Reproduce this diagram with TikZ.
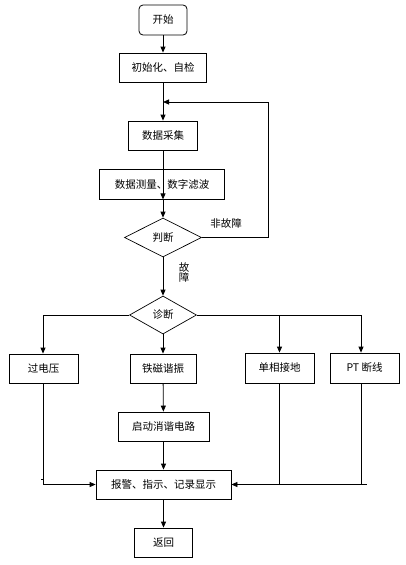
\documentclass[tikz,border=0pt]{standalone}
\usepackage{fontspec}
\setmainfont{Noto Sans CJK SC}
\usetikzlibrary{arrows.meta, positioning, shapes.geometric, calc}

\begin{document}
\begin{tikzpicture}[
    x=1pt, y=-1pt,
    boite/.style={draw, line width=0.8pt, inner sep=0pt, minimum height=29pt,
                  font=\fontsize{10.5}{12}\selectfont},
    losange/.style={diamond, draw, line width=0.7pt, inner sep=0pt,
                    font=\fontsize{10.5}{12}\selectfont},
    fleche/.style={-{Triangle[length=6pt, width=5pt]}, line width=0.8pt},
    trait/.style={line width=0.8pt},
    etiquette/.style={font=\fontsize{10.5}{12}\selectfont}
  ]
    \useasboundingbox (0,0) rectangle (406,565);

    % Noeuds
    \node[boite, rounded corners=4pt, minimum width=48pt, minimum height=30pt] (debut) at (163,20) {开始};
    \node[boite, minimum width=87pt] (init) at (163,67.5) {初始化、自检};
    \node[boite, minimum width=69pt] (acq) at (163,135.5) {数据采集};
    \node[boite, minimum width=125pt, minimum height=30pt] (mesure) at (162,184) {数据测量、数字滤波};
    \node[losange, minimum width=77pt, minimum height=39pt] (juge) at (163,237.5) {判断};
    \node[losange, minimum width=67pt, minimum height=38pt] (diag) at (163,315) {诊断};

    \node[boite, minimum width=69pt] (surtension) at (43.5,368.5) {过电压};
    \node[boite, minimum width=66pt] (ferro) at (163,368.5) {铁磁谐振};
    \node[boite, minimum width=69pt, minimum height=30pt] (terre) at (279.5,368) {单相接地};
    \node[boite, minimum width=69pt, minimum height=30pt] (ptcoupe) at (364.5,368) {PT 断线};
    \node[boite, minimum width=91pt] (amorti) at (163.5,426.5) {启动消谐电路};
    \node[boite, minimum width=135pt] (alarme) at (163.5,484.5) {报警、指示、记录显示};
    \node[boite, minimum width=58pt] (retour) at (163.5,542.5) {返回};

    % Chemin principal
    \draw[fleche] (debut) -- (init);
    \draw[fleche] (init) -- (acq);
    \draw[fleche] (acq) -- (mesure.south -| acq) ;
    \draw[fleche] (mesure.south -| acq) -- (juge.north);
    \draw[fleche] (juge.south) -- (diag.north);

    % Boucle non-defaut
    \coordinate (boucle) at (163,102);
    \draw[fleche] (juge.east) -- (268,237.5) -- (268,102) -- (boucle);
    \node[etiquette] (nondefaut) at (226,223) {非故障};
    \node[etiquette, align=center, inner sep=0pt] (defaut) at (184,273) {故\\[-2pt]障};

    % Branches du diagnostic
    \draw[fleche] (diag.west) -| (surtension.north -| 43,0);
    \draw[fleche] (diag.south) -- (ferro.north);
    \draw[fleche] (diag.east) -| (terre.north);
    \draw[fleche] (diag.east) -| ($(ptcoupe.north)+(-3.5,0)$);
    \draw[fleche] (ferro) -- (amorti);

    % Retour vers l'alarme
    \draw[fleche] (surtension.south -| 43,0) |- (alarme.west);
    \draw[trait] (41,479) -- (43,479);
    \draw[fleche] ($(ptcoupe.south)+(-3.5,0)$) |- (alarme.east);
    \draw[trait] (terre.south) -- (terre.south |- alarme.east);
    \draw[trait] ($(ptcoupe.south |- alarme.east)+(-3.5,0)$) -- ++(6,0);
    \draw[fleche] (amorti) -- (alarme);
    \draw[fleche] (alarme) -- (retour);
  \end{tikzpicture}
\end{document}
